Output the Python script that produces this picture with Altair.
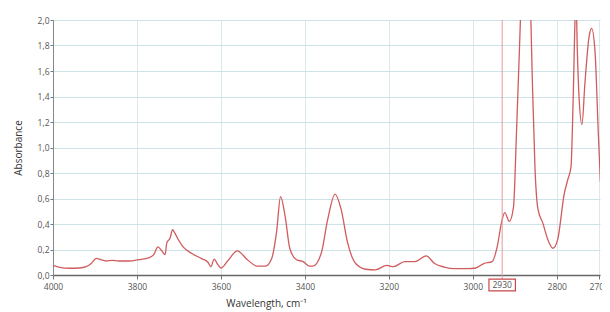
import altair as alt
import pandas as pd

wavenumber = [4000, 3984, 3960, 3937, 3921, 3909, 3897, 3886, 3874, 3859, 3843, 3819, 3796, 3772,
              3760, 3750, 3741, 3733, 3729, 3721, 3715, 3710, 3702, 3690, 3670, 3647, 3631, 3624,
              3616, 3608, 3600, 3584, 3561, 3537, 3514, 3494, 3479, 3467, 3458, 3447, 3436, 3420,
              3404, 3389, 3381, 3361, 3346, 3328, 3314, 3298, 3279, 3255, 3232, 3205, 3189, 3162,
              3138, 3111, 3091, 3068, 3044, 3013, 2993, 2974, 2954, 2942, 2932, 2924, 2913, 2903,
              2896, 2889, 2886, 2873, 2862, 2858, 2852, 2845, 2833, 2821, 2809, 2798, 2782, 2774,
              2766, 2761, 2756, 2754, 2751, 2747, 2740, 2733, 2723, 2717, 2709, 2701, 2696]
absorbance = [0.075, 0.06, 0.053, 0.055, 0.065, 0.09, 0.13, 0.12, 0.11, 0.115, 0.11, 0.11, 0.12, 0.135,
              0.16, 0.22, 0.19, 0.16, 0.25, 0.29, 0.355, 0.33, 0.28, 0.22, 0.17, 0.13, 0.10, 0.065,
              0.125, 0.085, 0.055, 0.11, 0.19, 0.12, 0.07, 0.07, 0.13, 0.35, 0.615, 0.46, 0.21, 0.12,
              0.105, 0.07, 0.07, 0.17, 0.43, 0.635, 0.52, 0.25, 0.09, 0.045, 0.04, 0.075, 0.065, 0.105,
              0.105, 0.15, 0.09, 0.062, 0.05, 0.05, 0.055, 0.09, 0.105, 0.22, 0.405, 0.49, 0.42, 0.535,
              1.11, 1.76, 2.05, 2.9, 2.05, 1.50, 0.85, 0.52, 0.405, 0.275, 0.21, 0.275, 0.64, 0.745,
              0.85, 1.37, 2.05, 2.15, 1.76, 1.40, 1.18, 1.50, 1.87, 1.935, 1.76, 1.11, 0.73]

x_ticks = [4000, 3800, 3600, 3400, 3200, 3000, 2800, 2700]
y_ticks = [0.0, 0.2, 0.4, 0.6, 0.8, 1.0, 1.2, 1.4, 1.6, 1.8, 2.0]
marker_wn = [2930]
marker_label = ["2930"]

df = pd.DataFrame({"wn": wavenumber, "abs": absorbance, "i": list(range(len(wavenumber)))})
mk = pd.DataFrame({"wn": marker_wn, "label": marker_label})

FONT = "Open Sans"
H = 255
W = 547
xscale = alt.Scale(domain=[4000, 2697], nice=False, zero=False)
yscale = alt.Scale(domain=[0, 2], nice=False)

line = alt.Chart(df).mark_line(color="#d05c5e", strokeWidth=1.3, clip=True, interpolate="monotone").encode(
    x=alt.X("wn:Q", scale=xscale,
            axis=alt.Axis(values=x_ticks, format="d", title="Wavelength, cm⁻¹",
                          titleX=213, titleY=28, titleBaseline="middle", titleAnchor="middle",
                          titleFontSize=10, titleFontWeight="normal", titleColor="#333",
                          titleFont=FONT, labelFont=FONT, labelFontSize=8.5, labelColor="#555",
                          labelFlush=False, tickSize=4, tickColor="#777", domainColor="#666",
                          domainWidth=1.6, gridColor="#dce9ec", labelPadding=3)),
    y=alt.Y("abs:Q", scale=yscale,
            axis=alt.Axis(values=y_ticks, labelExpr="replace(format(datum.value, '.1f'), '.', ',')",
                          title="Absorbance", titleX=-35, titleY=H / 2, titleAngle=270,
                          titleBaseline="middle", titleAnchor="middle",
                          titleFontSize=10, titleFontWeight="normal", titleColor="#333",
                          titleFont=FONT, labelFont=FONT, labelFontSize=8.5, labelColor="#555",
                          tickSize=3, tickColor="#777", domainColor="#888", domainWidth=1,
                          gridColor="#cde3e7", labelPadding=1)),
    order=alt.Order("i:Q"),
)

rule = alt.Chart(mk).mark_rule(color="#e49a9c", strokeWidth=1).encode(
    x=alt.X("wn:Q", scale=xscale), y=alt.value(0), y2=alt.value(H + 4)
)

box = alt.Chart(mk).mark_point(
    shape="M-1,-0.45L1,-0.45L1,0.45L-1,0.45Z", size=700, filled=False,
    color="#c9474b", strokeWidth=1.2, opacity=1
).encode(x=alt.X("wn:Q", scale=xscale), y=alt.value(H + 10))

txt = alt.Chart(mk).mark_text(fontSize=8.5, font=FONT, color="#555").encode(
    x=alt.X("wn:Q", scale=xscale), y=alt.value(H + 10), text="label:N"
)

chart = alt.layer(line, rule, box, txt).properties(
    width=W, height=H,
    autosize=alt.AutoSizeParams(type="none"),
    padding={"left": 45, "top": 12, "right": 2, "bottom": 37},
    background="white",
).configure_view(stroke=None)

chart.save("out.html", embed_options={"renderer": "svg", "actions": False})
